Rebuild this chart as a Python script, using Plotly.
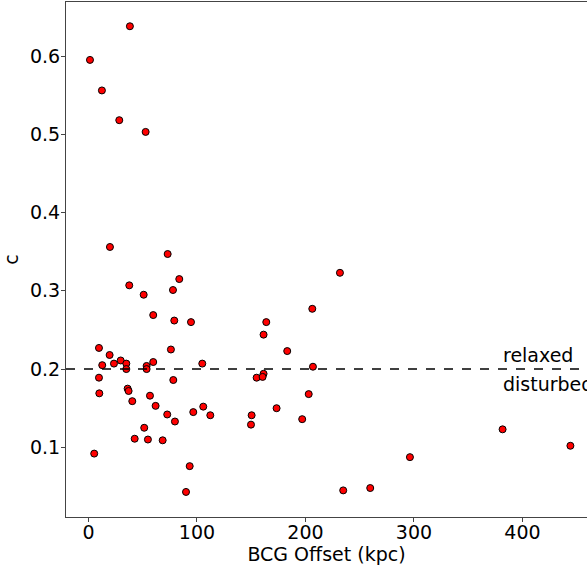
import plotly.graph_objects as go

# BCG offset (kpc) and concentration parameter c for each cluster
bcg_offset = [38.2, 1.4, 12.4, 28.4, 52.7,
              19.8, 73.0, 83.7, 37.6, 77.9, 50.9, 59.7, 79.1, 94.5,
              9.7, 76.0, 19.5, 12.7, 23.5, 29.7, 34.9, 34.9, 53.6, 53.6, 59.7, 104.9,
              9.7, 78.2, 10.0, 36.1, 37.0, 40.4, 56.7,
              61.9, 72.6, 79.7, 96.6, 105.8, 112.3, 150.4, 149.8,
              51.4, 42.6, 54.8, 68.4, 5.3, 93.3, 89.9,
              231.8, 206.3, 163.9, 161.4, 183.2, 206.9, 155.0, 161.4, 160.5, 203.0,
              173.4, 197.0, 381.7, 444.2, 296.3, 234.8, 259.7]
concentration = [0.638, 0.595, 0.556, 0.518, 0.503,
                 0.356, 0.347, 0.315, 0.307, 0.301, 0.295, 0.269, 0.262, 0.260,
                 0.227, 0.225, 0.218, 0.205, 0.207, 0.211, 0.207, 0.200, 0.204, 0.200, 0.209, 0.207,
                 0.189, 0.186, 0.169, 0.175, 0.172, 0.159, 0.166,
                 0.153, 0.142, 0.133, 0.145, 0.152, 0.141, 0.141, 0.129,
                 0.125, 0.111, 0.110, 0.109, 0.092, 0.076, 0.043,
                 0.323, 0.277, 0.260, 0.244, 0.223, 0.203, 0.189, 0.194, 0.190, 0.168,
                 0.150, 0.136, 0.123, 0.102, 0.0875, 0.045, 0.048]

threshold = 0.2
x_ticks = [0, 100, 200, 300, 400]
y_ticks = [0.1, 0.2, 0.3, 0.4, 0.5, 0.6]

x_range = [-20.7, 459.5]
y_range = [0.011, 0.669]

font = "DejaVu Sans"
fsize = 19

fig = go.Figure()
fig.add_trace(go.Scatter(
    x=bcg_offset, y=concentration, mode="markers",
    marker=dict(color="#ff0000", size=7, line=dict(color="black", width=1)),
    showlegend=False,
))

fig.add_shape(type="line", xref="paper", yref="y", x0=0, x1=1,
              y0=threshold, y1=threshold,
              line=dict(color="black", width=1.5, dash="dash"))

fig.add_annotation(x=380, y=0.218, text="relaxed", showarrow=False,
                   xanchor="left", yanchor="middle",
                   font=dict(family=font, size=fsize, color="black"))
fig.add_annotation(x=380, y=0.181, text="disturbed", showarrow=False,
                   xanchor="left", yanchor="middle",
                   font=dict(family=font, size=fsize, color="black"))

axis_common = dict(
    showgrid=False, zeroline=False, showline=True, linecolor="#444",
    linewidth=1, ticks="outside", ticklen=4, tickcolor="#444",
    tickfont=dict(family=font, size=fsize, color="black"),
)

fig.update_xaxes(range=x_range, tickvals=x_ticks, mirror=True,
                 ticklabelstandoff=-6,
                 title=dict(text="BCG Offset (kpc)",
                            font=dict(family=font, size=fsize, color="black"),
                            standoff=0),
                 **axis_common)
fig.update_yaxes(range=y_range, tickvals=y_ticks, tickformat=".1f",
                 ticklabelstandoff=-3,
                 title=dict(text="c",
                            font=dict(family=font, size=fsize, color="black"),
                            standoff=14),
                 **axis_common)

fig.update_layout(
    width=587, height=570,
    margin=dict(l=66, r=0, t=2, b=53),
    plot_bgcolor="white", paper_bgcolor="white",
)

fig.write_html("out.html")
